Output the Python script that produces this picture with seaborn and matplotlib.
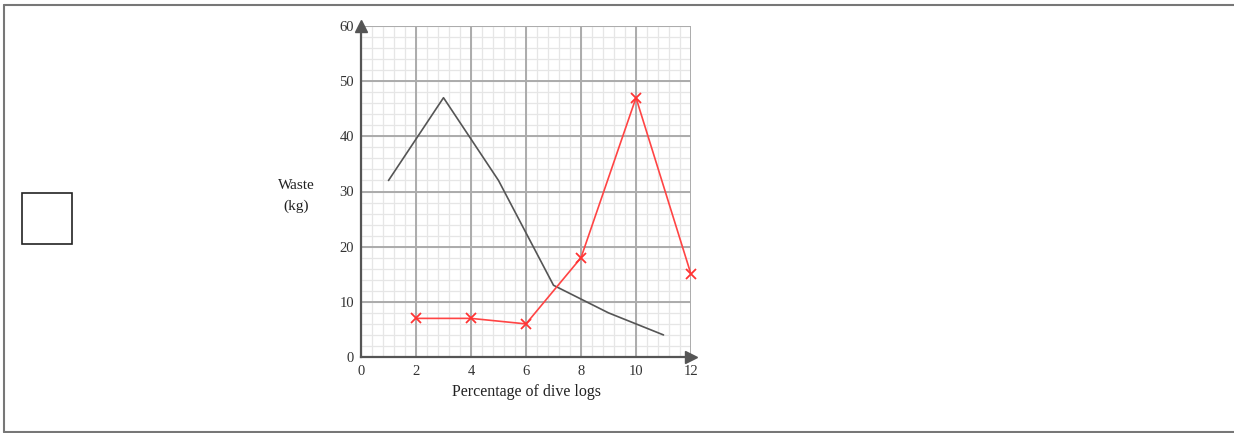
import numpy as np
import pandas as pd
import matplotlib
matplotlib.use("Agg")
import matplotlib.pyplot as plt
import seaborn as sns
from matplotlib.lines import Line2D
from matplotlib.patches import Rectangle

# Data
gray_x = [1, 3, 5, 7, 9, 11]
gray_y = [32, 47, 32, 13, 8, 4]
red_x = [2, 4, 6, 8, 10, 12]
red_y = [7, 7, 6, 18, 47, 15]
x_ticks = [0, 2, 4, 6, 8, 10, 12]
y_ticks = [0, 10, 20, 30, 40, 50, 60]
x_label = "Percentage of dive logs"
y_label = "Waste\n(kg)"

sns.set_theme(style="white")
plt.rcParams['font.family'] = ['Liberation Serif', 'DejaVu Serif']

fig = plt.figure(figsize=(12.34, 4.33), dpi=100)
ax = fig.add_axes([361/1234, 1-357/433, 330/1234, 331/433])

# grid
for v in np.arange(0, 12.01, 0.4):
    ax.axvline(v, color="#e6e6e6", lw=0.9, zorder=0)
for v in np.arange(0, 60.01, 2):
    ax.axhline(v, color="#e6e6e6", lw=0.9, zorder=0)
for v in x_ticks:
    ax.axvline(v, color="#ababab", lw=1.4, zorder=1)
for v in y_ticks:
    ax.axhline(v, color="#ababab", lw=1.4, zorder=1)

df_g = pd.DataFrame({"x": gray_x, "y": gray_y})
df_r = pd.DataFrame({"x": red_x, "y": red_y})
sns.lineplot(data=df_g, x="x", y="y", ax=ax, color="#555555", lw=1.2, zorder=3)
sns.lineplot(data=df_r, x="x", y="y", ax=ax, color="#ff4444", lw=1.2,
             marker="x", markersize=7, markeredgewidth=1.3,
             markeredgecolor="#ff3333", zorder=4, clip_on=False)

ax.set_xlim(0, 12)
ax.set_ylim(0, 60)
ax.set_xticks(x_ticks)
ax.set_yticks(y_ticks)
ax.tick_params(axis="both", labelsize=10.5, length=4,
               width=1, direction="out", colors="#555555", labelcolor="#333333")
ax.tick_params(axis="x", pad=2)
ax.tick_params(axis="y", pad=1)
for s in ["top", "right"]:
    ax.spines[s].set_visible(False)
for s in ["left", "bottom"]:
    ax.spines[s].set_color("#555555")
    ax.spines[s].set_linewidth(1.6)
    ax.spines[s].set_zorder(5)

# arrows
ax.plot(0, 60, marker="^", color="#555555", markersize=8, clip_on=False, zorder=6)
ax.plot(12, 0, marker=">", color="#555555", markersize=8, clip_on=False, zorder=6)

ax.set_xlabel(x_label, fontsize=11.5, color="#222222", labelpad=4)
ax.set_ylabel("")
fig.text(296/1234, 1-196/433, y_label, ha="center", va="center",
         fontsize=11, color="#222222", linespacing=1.8)

# outer frame and box
fig.add_artist(Line2D([4/1234, 1], [1-5/433, 1-5/433], color="#777777", lw=1.5,
                      transform=fig.transFigure))
fig.add_artist(Line2D([4/1234, 4/1234], [1-5/433, 1-432/433], color="#777777", lw=1.5,
                      transform=fig.transFigure))
fig.add_artist(Line2D([4/1234, 1], [1-432/433, 1-432/433], color="#777777", lw=1.5,
                      transform=fig.transFigure))
fig.add_artist(Rectangle((22/1234, 1-244/433), 50/1234, 51/433, fill=False,
                         edgecolor="#222222", lw=1.2, transform=fig.transFigure))

fig.savefig("out.png", dpi=100, facecolor="white")
